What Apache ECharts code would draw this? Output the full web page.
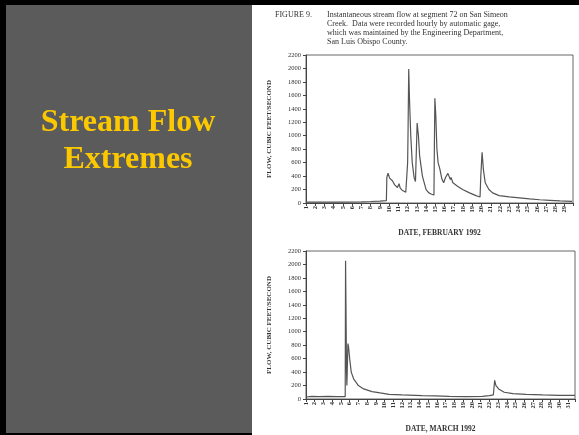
<!DOCTYPE html>
<html>
<head>
<meta charset="utf-8">
<script src="https://cdn.jsdelivr.net/npm/echarts@6/dist/echarts.min.js"></script>
<style>
html, body { margin: 0; padding: 0; background: #000; }
#chart { width: 579px; height: 435px; }
</style>
</head>
<body>
<div id="chart"></div>
<script>
// 标题与说明文字
var slideTitle = ['Stream Flow', 'Extremes'];
var captionHead = 'FIGURE 9.';
var captionLines = [
    'Instantaneous stream flow at segment 72 on San Simeon',
    'Creek.  Data were recorded hourly by automatic gage,',
    'which was maintained by the Engineering Department,',
    'San Luis Obispo County.'
];

// 二月流量 (日, cfs)
var febDays = [1, 3, 5, 7, 8, 9, 9.7, 9.75, 9.88, 10.05, 10.17, 10.35, 10.6, 10.9, 11.07, 11.2, 11.4, 11.8, 11.95,
    12.0, 12.05, 12.12, 12.2, 12.34, 12.5, 12.7, 12.85, 13.03, 13.17, 13.3, 13.6, 14.0, 14.3, 14.6, 14.85,
    14.9, 14.95, 15.05, 15.17, 15.3, 15.5, 15.7, 15.9, 16.1, 16.36, 16.5, 16.62, 16.7, 16.9, 17.4, 17.95, 18.7, 19.4, 19.84,
    19.92, 20.06, 20.2, 20.4, 20.8, 21.2, 21.9, 23.0, 24.1, 25.2, 26.3, 27.4, 28.5, 29.8];
var febFlow = [12, 12, 14, 18, 22, 28, 35, 380, 444, 370, 390, 330, 270, 230, 286, 220, 190, 160, 175,
    600, 1105, 1993, 1550, 1000, 600, 380, 320, 1189, 1000, 700, 400, 200, 150, 130, 120,
    900, 1558, 1300, 800, 600, 500, 360, 300, 380, 440, 450, 350, 380, 300, 250, 200, 150, 110, 90,
    400, 755, 500, 300, 200, 150, 110, 90, 75, 60, 48, 40, 32, 25];

// 三月流量 (日, cfs)
var marDays = [1, 1.65, 2.5, 3.5, 4.5, 5.49, 5.53, 5.58, 5.64, 5.68, 5.8, 5.87, 6.0, 6.18, 6.45, 7.0, 7.6, 8.56,
    9.5, 10.5, 12.0, 14.3, 15.8, 17.4, 19.3, 21.2, 22.0, 22.45, 22.6, 22.75, 23.06, 23.7, 24.7, 26.2, 28.1, 30.0, 31.8];
var marFlow = [30, 40, 35, 38, 34, 35, 2056, 1350, 400, 200, 824, 780, 600, 400, 300, 200, 150, 110,
    90, 70, 60, 50, 45, 40, 35, 40, 50, 60, 278, 200, 150, 100, 80, 70, 60, 55, 55];

function pairs(xs, ys) {
    return xs.map(function (x, i) { return [x, ys[i]]; });
}

var mychart = echarts.init(document.getElementById('chart'), null, { renderer: 'canvas' });

var axisColor = '#444';
function xAxis(gridIndex, maxDay, lastLabel, name) {
    return {
        gridIndex: gridIndex,
        type: 'value',
        min: 1,
        max: maxDay,
        interval: 1,
        name: name,
        nameLocation: 'middle',
        nameGap: 26,
        nameTextStyle: { fontFamily: 'Liberation Serif', fontSize: 7.5, fontWeight: 'bold', color: '#333' },
        axisLine: { lineStyle: { color: axisColor, width: 1 } },
        axisTick: { length: 3, lineStyle: { color: axisColor } },
        axisLabel: {
            rotate: 90, fontSize: 6.5, margin: 3, color: '#333', fontFamily: 'Liberation Serif', fontWeight: 'bold',
            formatter: function (v) { return (Number.isInteger(v) && v <= lastLabel) ? String(v) : ''; }
        },
        splitLine: { show: false }
    };
}
function yAxis(gridIndex) {
    return {
        gridIndex: gridIndex,
        type: 'value',
        min: 0,
        max: 2200,
        interval: 200,
        name: 'FLOW, CUBIC FEET/SECOND',
        nameLocation: 'middle',
        nameRotate: 90,
        nameGap: 33,
        nameTextStyle: { fontFamily: 'Liberation Serif', fontSize: 7, fontWeight: 'bold', color: '#333' },
        axisLine: { show: true, lineStyle: { color: axisColor, width: 1 } },
        axisTick: { show: true, length: 3, lineStyle: { color: axisColor } },
        axisLabel: {
            fontSize: 6.5, margin: 5, color: '#333', fontFamily: 'Liberation Serif',
            formatter: function (v) { return String(v); }
        },
        splitLine: { show: false }
    };
}

var graphics = [
    { type: 'rect', shape: { x: 6, y: 5, width: 246, height: 428 }, style: { fill: '#5b5b5b' }, z: -10 },
    { type: 'rect', shape: { x: 252, y: 5, width: 327, height: 430 }, style: { fill: '#ffffff' }, z: -10 },
    { type: 'text', x: 128, y: 123, style: { text: slideTitle[0], fill: '#fcc800', font: 'bold 32px "Liberation Serif"', textAlign: 'center', textVerticalAlign: 'middle' } },
    { type: 'text', x: 128, y: 160, style: { text: slideTitle[1], fill: '#fcc800', font: 'bold 32px "Liberation Serif"', textAlign: 'center', textVerticalAlign: 'middle' } },
    { type: 'text', x: 275, y: 15, style: { text: captionHead, fill: '#333', font: '8px "Liberation Serif"', textVerticalAlign: 'middle' } }
];
captionLines.forEach(function (t, i) {
    graphics.push({ type: 'text', x: 327, y: 15 + i * 9, style: { text: t, fill: '#333', font: '8px "Liberation Serif"', textVerticalAlign: 'middle' } });
});

var optionObj = {
    backgroundColor: '#000000',
    animation: false,
    graphic: graphics,
    grid: [
        { left: 306, top: 55, right: 6, height: 148, show: true, borderColor: '#666', borderWidth: 1, backgroundColor: 'transparent' },
        { left: 306, top: 251, right: 4, height: 148, show: true, borderColor: '#666', borderWidth: 1, backgroundColor: 'transparent' }
    ],
    xAxis: [
        xAxis(0, 29.9, 29, 'DATE, FEBRUARY 1992'),
        xAxis(1, 31.8, 31, 'DATE, MARCH 1992')
    ],
    yAxis: [yAxis(0), yAxis(1)],
    series: [
        {
            type: 'line', xAxisIndex: 0, yAxisIndex: 0, symbol: 'none',
            lineStyle: { color: '#555', width: 1.2 },
            data: pairs(febDays, febFlow)
        },
        {
            type: 'line', xAxisIndex: 1, yAxisIndex: 1, symbol: 'none',
            lineStyle: { color: '#555', width: 1.2 },
            data: pairs(marDays, marFlow)
        }
    ]
};

mychart.setOption(optionObj);
</script>
</body>
</html>
